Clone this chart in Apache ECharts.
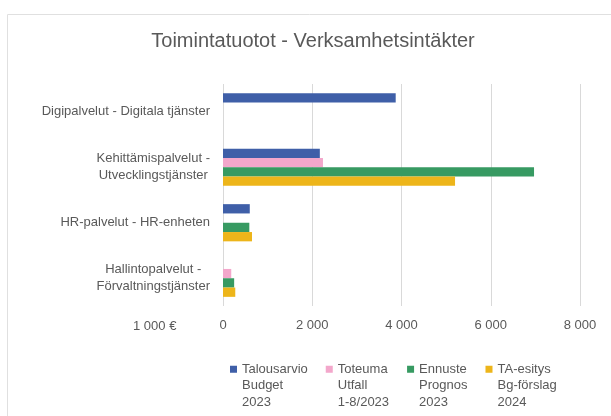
<!DOCTYPE html>
<html>
<head>
<meta charset="utf-8">
<script src="https://cdn.jsdelivr.net/npm/echarts@6/dist/echarts.min.js"></script>
<style>
  html, body { margin: 0; padding: 0; background: #fff; }
  #chart { width: 611px; height: 416px; }
</style>
</head>
<body>
<div id="chart"></div>
<script>
// categories (top to bottom)
const categories = [
  "Digipalvelut - Digitala tjänster",
  "Kehittämispalvelut -\nUtvecklingstjänster",
  "HR-palvelut - HR-enheten",
  "Hallintopalvelut -\nFörvaltningstjänster"
];
// 1 000 €
const budget2023 = [3870, 2170, 600, null];
const utfall2023 = [null, 2240, null, 185];
const prognos2023 = [null, 6970, 590, 250];
const forslag2024 = [null, 5200, 650, 275];

const seriesNames = [
  "Talousarvio\nBudget\n2023",
  "Toteuma\nUtfall\n1-8/2023",
  "Ennuste\nPrognos\n2023",
  "TA-esitys\nBg-förslag\n2024"
];
const xTicks = [0, 2000, 4000, 6000, 8000];

const font = "'Liberation Sans', Arial, sans-serif";
const textColor = "#595959";
const gridColor = "#d9d9d9";
const colors = ["#3f5fa8", "#f3a7cb", "#379a62", "#edb51a"];

// legend square sits on the first of three text lines
const legendIcon = "path://M0,4.75h7v7h-7z M0,0h0.001v0.001h-0.001z M0,49.5h0.001v0.001h-0.001z";

const chart = echarts.init(document.getElementById("chart"));

function fmt(v) {
  return String(v).replace(/\B(?=(\d{3})+(?!\d))/g, " ");
}

chart.setOption({
  animation: false,
  color: colors,
  title: {
    text: "Toimintatuotot - Verksamhetsintäkter",
    left: 308,
    top: 26,
    textAlign: "center",
    textStyle: { fontFamily: font, fontSize: 20, fontWeight: "normal", color: textColor }
  },
  grid: { left: 223, right: 31, top: 84, bottom: 110, containLabel: false },
  legend: {
    left: 225,
    top: 356,
    itemWidth: 7,
    itemHeight: 49.5,
    itemGap: 18,
    icon: legendIcon,
    textStyle: {
      fontFamily: font,
      fontSize: 13,
      color: textColor,
      lineHeight: 16.5
    },
    data: seriesNames
  },
  xAxis: {
    type: "value",
    min: xTicks[0],
    max: xTicks[xTicks.length - 1],
    interval: 2000,
    axisLine: { show: false },
    axisTick: { show: false },
    axisLabel: {
      margin: 13,
      fontFamily: font,
      fontSize: 13,
      color: textColor,
      formatter: fmt
    },
    splitLine: { lineStyle: { color: gridColor, width: 1 } }
  },
  yAxis: {
    type: "category",
    inverse: true,
    data: categories,
    axisLine: { show: false },
    axisTick: { show: false },
    axisLabel: {
      margin: 13,
      fontFamily: font,
      fontSize: 13,
      lineHeight: 17,
      color: textColor,
      formatter: (v) => v.split("\n").map((s) => "{c|" + s + "}").join("\n"),
      rich: {
        c: { align: "center", fontFamily: font, fontSize: 13, lineHeight: 17, color: textColor }
      }
    }
  },
  graphic: [
    {
      type: "rect",
      shape: { x: 7.5, y: 14.5, width: 700, height: 500 },
      style: { fill: "none", stroke: "#e0e0e0", lineWidth: 1 },
      z: -1
    },
    {
      type: "text",
      left: 133,
      top: 320,
      style: { text: "1 000 €", font: "13px " + font, fill: textColor }
    }
  ],
  series: [budget2023, utfall2023, prognos2023, forslag2024].map((d, i) => ({
    name: seriesNames[i],
    type: "bar",
    data: d,
    barGap: "0%",
    barCategoryGap: "33%"
  }))
});
</script>
</body>
</html>
